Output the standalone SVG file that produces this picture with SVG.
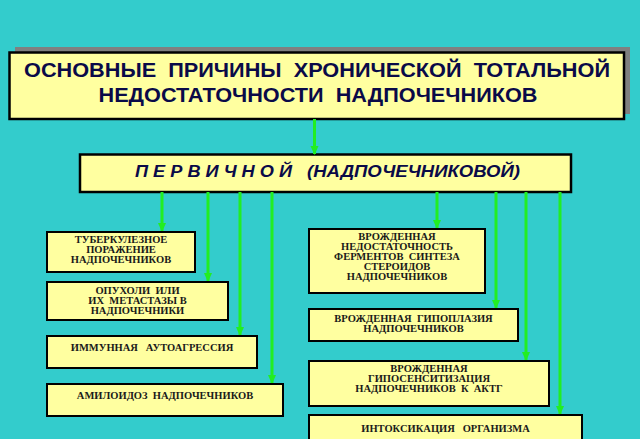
<svg xmlns="http://www.w3.org/2000/svg" width="640" height="439" viewBox="0 0 640 439">
<defs>
<style>
.box{fill:#FFFFA0;stroke:#000;stroke-width:2}
.big{fill:#FFFFA0;stroke:#000;stroke-width:2.5}
.shadow{fill:#808080}
.title{font-family:"Liberation Sans",Arial,sans-serif;font-weight:bold;font-size:20px;fill:#0A0A48;text-anchor:middle}
.sub{font-family:"Liberation Sans",Arial,sans-serif;font-weight:bold;font-style:italic;font-size:16px;fill:#0A0A48}
.t{font-family:"Liberation Serif","Times New Roman",serif;font-weight:bold;font-size:10.5px;fill:#1A1A1A;text-anchor:middle}
.c{stroke:#22EE22;stroke-width:3;fill:none}
</style>
<marker id="ah" markerUnits="userSpaceOnUse" markerWidth="10" markerHeight="10" viewBox="0 0 10 10" refX="9" refY="5" orient="auto">
<path d="M1,1 L10,5 L1,9 Z" fill="#22EE22"/>
</marker>
</defs>
<rect width="640" height="439" fill="#33CCCC"/>

<g id="title">
<rect class="shadow" x="15" y="47" width="615" height="67"/>
<rect class="big" x="9.5" y="52.5" width="614.5" height="66.5"/>
<text class="title" x="317" y="77" textLength="586" lengthAdjust="spacingAndGlyphs">ОСНОВНЫЕ &#160;ПРИЧИНЫ &#160;ХРОНИЧЕСКОЙ &#160;ТОТАЛЬНОЙ</text>
<text class="title" x="318" y="102" textLength="439" lengthAdjust="spacingAndGlyphs">НЕДОСТАТОЧНОСТИ &#160;НАДПОЧЕЧНИКОВ</text>
</g>

<g id="primary">
<rect class="big" x="80" y="154.5" width="491" height="37.5"/>
<text class="sub" x="135" y="177" textLength="157" lengthAdjust="spacingAndGlyphs">П Е Р В И Ч Н О Й</text>
<text class="sub" x="307" y="177" textLength="213" lengthAdjust="spacingAndGlyphs">(НАДПОЧЕЧНИКОВОЙ)</text>
</g>

<g id="connectors">
<line class="c" x1="314.5" y1="119" x2="314.5" y2="154" marker-end="url(#ah)"/>
<line class="c" x1="162" y1="192" x2="162" y2="231" marker-end="url(#ah)"/>
<line class="c" x1="208" y1="192" x2="208" y2="281" marker-end="url(#ah)"/>
<line class="c" x1="240" y1="192" x2="240" y2="335" marker-end="url(#ah)"/>
<line class="c" x1="272" y1="192" x2="272" y2="383" marker-end="url(#ah)"/>
<line class="c" x1="437" y1="192" x2="437" y2="228" marker-end="url(#ah)"/>
<line class="c" x1="496" y1="192" x2="496" y2="308" marker-end="url(#ah)"/>
<line class="c" x1="526" y1="192" x2="526" y2="360" marker-end="url(#ah)"/>
<line class="c" x1="560" y1="192" x2="560" y2="414" marker-end="url(#ah)"/>
</g>

<g id="tb">
<rect class="box" x="47" y="232" width="148" height="40"/>
<text class="t" x="121" y="243">ТУБЕРКУЛЕЗНОЕ</text>
<text class="t" x="121" y="253">ПОРАЖЕНИЕ</text>
<text class="t" x="121" y="262.5">НАДПОЧЕЧНИКОВ</text>
</g>
<g id="tumor">
<rect class="box" x="47" y="282" width="181" height="38"/>
<text class="t" x="137.5" y="293.5">ОПУХОЛИ &#160;ИЛИ</text>
<text class="t" x="137.5" y="303.5">ИХ &#160;МЕТАСТАЗЫ В</text>
<text class="t" x="137.5" y="313.5">НАДПОЧЕЧНИКИ</text>
</g>
<g id="immune">
<rect class="box" x="47" y="336" width="210" height="32"/>
<text class="t" x="152" y="351">ИММУННАЯ &#160; АУТОАГРЕССИЯ</text>
</g>
<g id="amyloid">
<rect class="box" x="47" y="384" width="236" height="32"/>
<text class="t" x="165" y="399">АМИЛОИДОЗ &#160;НАДПОЧЕЧНИКОВ</text>
</g>

<g id="enzyme">
<rect class="box" x="309" y="229" width="176" height="64"/>
<text class="t" x="397" y="240">ВРОЖДЕННАЯ</text>
<text class="t" x="397" y="250">НЕДОСТАТОЧНОСТЬ</text>
<text class="t" x="397" y="260">ФЕРМЕНТОВ &#160;СИНТЕЗА</text>
<text class="t" x="397" y="270">СТЕРОИДОВ</text>
<text class="t" x="397" y="280">НАДПОЧЕЧНИКОВ</text>
</g>
<g id="hypoplasia">
<rect class="box" x="309" y="309" width="209" height="32"/>
<text class="t" x="413.5" y="322">ВРОЖДЕННАЯ &#160;ГИПОПЛАЗИЯ</text>
<text class="t" x="413.5" y="332">НАДПОЧЕЧНИКОВ</text>
</g>
<g id="hyposens">
<rect class="box" x="309" y="361" width="240" height="45"/>
<text class="t" x="429" y="372">ВРОЖДЕННАЯ</text>
<text class="t" x="429" y="382">ГИПОСЕНСИТИЗАЦИЯ</text>
<text class="t" x="429" y="392">НАДПОЧЕЧНИКОВ &#160;К &#160;АКТГ</text>
</g>
<g id="intox">
<rect class="box" x="309" y="415" width="273" height="34"/>
<text class="t" x="445.5" y="432">ИНТОКСИКАЦИЯ &#160; ОРГАНИЗМА</text>
</g>
</svg>
